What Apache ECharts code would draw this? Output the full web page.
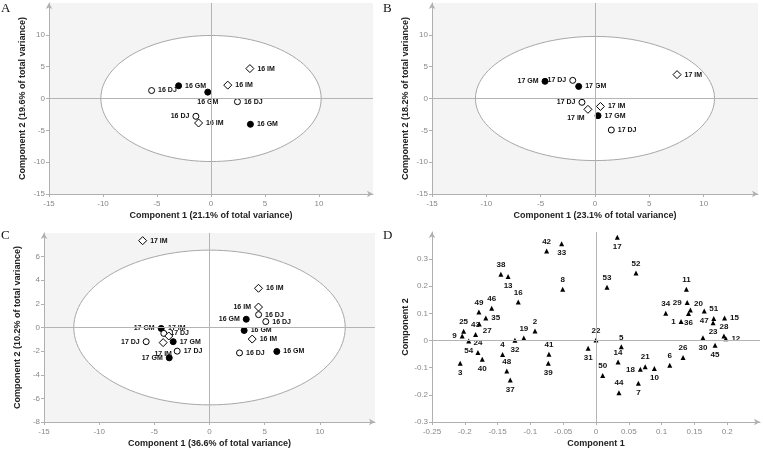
<!DOCTYPE html>
<html>
<head>
<meta charset="utf-8">
<script src="https://cdn.jsdelivr.net/npm/echarts@6/dist/echarts.min.js"></script>
<style>html,body{margin:0;padding:0;background:#fff}#pic_chart{width:763px;height:449px}</style>
</head>
<body>
<div id="pic_chart"></div>
<script>
// axis ranges: [min, max, interval]
var aX = [-15, 15, 5], aY = [-15, 15, 5];
var bX = [-15, 15, 5], bY = [-15, 15, 5];
var cX = [-15, 15, 5], cY = [-8, 8, 2];
var dX = [-0.25, 0.25, 0.05], dY = [-0.3, 0.4, 0.1];

var axisNames = [
    ['Component 1 (21.1% of total variance)', 'Component 2 (19.6% of total variance)'],
    ['Component 1 (23.1% of total variance)', 'Component 2 (18.2% of total variance)'],
    ['Component 1 (36.6% of total variance)', 'Component 2 (10.2% of total variance)'],
    ['Component 1', 'Component 2']
];

// confidence ellipses (semi axes)
var ellA = [10.2, 9.9], ellB = [11.0, 9.75], ellC = [12.3, 6.55];

// panel A
var aGM = [[-3.0, 2.0, '16 GM'], [-0.3, 1.0, '16 GM'], [3.65, -4.05, '16 GM']];
var aDJ = [[-5.5, 1.25, '16 DJ'], [2.45, -0.5, '16 DJ'], [-1.4, -2.8, '16 DJ']];
var aIM = [[1.55, 2.1, '16 IM'], [3.6, 4.7, '16 IM'], [-1.15, -3.85, '16 IM']];
var aGMPos = ['right', 'bottom', 'right'];
var aDJPos = ['right', 'right', 'left'];
var aIMPos = ['right', 'right', 'right'];

// panel B
var bGM = [[-4.6, 2.7, '17 GM'], [-1.5, 1.9, '17 GM'], [0.28, -2.7, '17 GM']];
var bDJ = [[-2.05, 2.85, '17 DJ'], [-1.2, -0.6, '17 DJ'], [1.5, -4.95, '17 DJ']];
var bIM = [[7.55, 3.75, '17 IM'], [-0.65, -1.7, '17 IM'], [0.5, -1.25, '17 IM']];
var bGMPos = ['left', 'right', 'right'];
var bDJPos = ['left', 'left', 'right'];
var bIMPos = ['right', 'bottomLeft', 'right'];

// panel C
var cGM = [[3.33, 0.7, '16 GM'], [3.14, -0.25, '16 GM'], [6.1, -2.03, '16 GM'],
           [-4.38, -0.08, '17 GM'], [-3.29, -1.2, '17 GM'], [-3.65, -2.57, '17 GM']];
var cDJ = [[4.45, 1.09, '16 DJ'], [5.1, 0.5, '16 DJ'], [2.72, -2.15, '16 DJ'],
           [-4.14, -0.5, '17 DJ'], [-5.74, -1.2, '17 DJ'], [-2.93, -2.0, '17 DJ']];
var cIM = [[4.44, 3.32, '16 IM'], [4.44, 1.73, '16 IM'], [3.87, -0.98, '16 IM'],
           [-6.06, 7.35, '17 IM'], [-3.69, -0.72, '17 IM'], [-4.2, -1.28, '17 IM']];
var cGMPos = ['left', 'right', 'right', 'left', 'right', 'left'];
var cDJPos = ['right', 'right', 'right', 'right', 'left', 'right'];
var cIMPos = ['right', 'left', 'right', 'right', 'topRight', 'bottom'];

// panel D loadings
var dPts = [
    [0.1297, 0.070, '1'], [-0.093, 0.035, '2'], [-0.207, -0.084, '3'], [-0.1424, -0.051, '4'],
    [0.0386, -0.023, '5'], [0.1124, -0.091, '6'], [0.0646, -0.157, '7'], [-0.0508, 0.189, '8'],
    [-0.204, 0.017, '9'], [0.089, -0.103, '10'], [0.1378, 0.189, '11'], [0.198, 0.007, '12'],
    [-0.134, 0.236, '13'], [0.0336, -0.079, '14'], [0.196, 0.083, '15'], [-0.1185, 0.142, '16'],
    [0.0325, 0.381, '17'], [0.0676, -0.106, '18'], [-0.110, 0.0098, '19'], [0.1439, 0.113, '20'],
    [0.075, -0.096, '21'], [0.0, 0.002, '22'], [0.1785, 0.066, '23'], [-0.18, -0.044, '24'],
    [-0.2018, 0.034, '25'], [0.1327, -0.062, '26'], [-0.178, 0.061, '27'], [0.195, 0.017, '28'],
    [0.139, 0.140, '29'], [0.163, 0.010, '30'], [-0.012, -0.028, '31'], [-0.1236, 0.001, '32'],
    [-0.0524, 0.357, '33'], [0.1063, 0.101, '34'], [-0.168, 0.083, '35'], [0.141, 0.0996, '36'],
    [-0.1307, -0.145, '37'], [-0.145, 0.244, '38'], [-0.0727, -0.084, '39'], [-0.1734, -0.069, '40'],
    [-0.0717, -0.050, '41'], [-0.0753, 0.330, '42'], [-0.1836, 0.022, '43'], [0.035, -0.192, '44'],
    [0.1815, -0.017, '45'], [-0.159, 0.119, '46'], [0.165, 0.109, '47'], [-0.136, -0.112, '48'],
    [-0.1785, 0.105, '49'], [0.0102, -0.129, '50'], [0.1795, 0.081, '51'], [0.061, 0.249, '52'],
    [0.0168, 0.196, '53'], [-0.194, -0.002, '54']
];
var dPos = [
    'left', 'top', 'bottom', 'top', 'top', 'top', 'bottom', 'top',
    'left', 'bottom', 'top', 'right', 'bottom', 'top', 'right', 'top',
    'bottom', 'left', 'top', 'topRight', 'top', 'top', 'bottom', 'top',
    'top', 'top', 'bottomRight', 'top', 'left', 'bottom', 'bottom', 'bottom',
    'bottom', 'top', 'right', 'bottom', 'bottom', 'top', 'bottom', 'bottom',
    'top', 'top', 'top', 'top', 'bottom', 'top', 'bottom', 'top',
    'top', 'top', 'top', 'top', 'top', 'bottom'
];

var font = 'Liberation Sans, Arial, sans-serif';

function lab(pos) {
    var m = {topRight: ['top', [8, 3]], bottomRight: ['bottom', [8, -3]], bottomLeft: ['bottom', [-12, -2]]};
    if (m[pos]) return {position: m[pos][0], offset: m[pos][1]};
    return {position: pos};
}

function pts(arr, pos, i, symbol, fill, size, fs, bw) {
    return {
        type: 'scatter', xAxisIndex: i, yAxisIndex: i, z: 3,
        symbol: symbol, symbolSize: size,
        itemStyle: {color: fill, borderColor: '#000', borderWidth: bw, opacity: 1},
        label: {show: true, formatter: '{b}', fontSize: fs, fontWeight: 'bold', color: '#111',
                fontFamily: font, distance: 3},
        data: arr.map(function (p, k) {
            return {value: [p[0], p[1]], name: p[2], label: lab(pos[k])};
        })
    };
}

function zeroLines(i) {
    return {
        type: 'scatter', xAxisIndex: i, yAxisIndex: i, z: 2, data: [],
        markLine: {silent: true, symbol: 'none', animation: false, label: {show: false},
                   lineStyle: {color: '#b4b4b4', width: 1, type: 'solid'},
                   data: [{xAxis: 0}, {yAxis: 0}]}
    };
}

function ellipse(e, i) {
    return {
        type: 'custom', xAxisIndex: i, yAxisIndex: i, z: 1, silent: true,
        data: [e],
        renderItem: function (params, api) {
            var rx = api.value(0), ry = api.value(1), p = [];
            for (var k = 0; k <= 120; k++) {
                var t = k / 120 * 2 * Math.PI;
                p.push(api.coord([rx * Math.cos(t), ry * Math.sin(t)]));
            }
            return {type: 'polygon', shape: {points: p},
                    style: {fill: '#fff', stroke: '#a8a8a8', lineWidth: 1}};
        }
    };
}

function axis(i, r, name, gap, isY) {
    return {
        type: 'value', gridIndex: i, min: r[0], max: r[1], interval: r[2],
        name: name, nameLocation: 'middle', nameGap: gap,
        nameTextStyle: {fontWeight: 'bold', fontSize: 9, color: '#222', fontFamily: font},
        axisLine: {onZero: false, lineStyle: {color: '#b0b0b0'}, symbol: ['none', 'arrow'], symbolSize: [5, 6]},
        axisTick: {lineStyle: {color: '#b0b0b0'}, length: 3},
        axisLabel: {fontSize: 8, color: '#888', showMaxLabel: false, margin: isY ? 4 : 6, fontFamily: font},
        splitLine: {show: false}
    };
}

var myChart = echarts.init(document.getElementById('pic_chart'));
option = {
    animation: false,
    graphic: [
        {type: 'text', left: 1, top: 2, style: {text: 'A', font: '13px Liberation Serif', fill: '#111'}},
        {type: 'text', left: 383, top: 2, style: {text: 'B', font: '13px Liberation Serif', fill: '#111'}},
        {type: 'text', left: 1, top: 229, style: {text: 'C', font: '13px Liberation Serif', fill: '#111'}},
        {type: 'text', left: 383, top: 229, style: {text: 'D', font: '13px Liberation Serif', fill: '#111'}}
    ],
    grid: [
        {left: 49, top: 3, width: 324, height: 191, show: true, backgroundColor: '#f4f4f4', borderWidth: 0},
        {left: 432, top: 3, width: 326, height: 191, show: true, backgroundColor: '#f4f4f4', borderWidth: 0},
        {left: 44, top: 233, width: 331, height: 191, show: true, backgroundColor: '#f4f4f4', borderWidth: 0},
        {left: 432, top: 232, width: 328, height: 192, show: false}
    ],
    xAxis: [
        axis(0, aX, axisNames[0][0], 17), axis(1, bX, axisNames[1][0], 17),
        axis(2, cX, axisNames[2][0], 17), axis(3, dX, axisNames[3][0], 17)
    ],
    yAxis: [
        axis(0, aY, axisNames[0][1], 22, true), axis(1, bY, axisNames[1][1], 22, true),
        axis(2, cY, axisNames[2][1], 22, true), axis(3, dY, axisNames[3][1], 22, true)
    ],
    series: [
        ellipse(ellA, 0), ellipse(ellB, 1), ellipse(ellC, 2),
        zeroLines(0), zeroLines(1), zeroLines(2), zeroLines(3),
        pts(aGM, aGMPos, 0, 'circle', '#000', 6, 7, 1),
        pts(aDJ, aDJPos, 0, 'circle', '#fff', 6, 7, 1),
        pts(aIM, aIMPos, 0, 'diamond', '#fff', 8, 7, 1),
        pts(bGM, bGMPos, 1, 'circle', '#000', 6, 7, 1),
        pts(bDJ, bDJPos, 1, 'circle', '#fff', 6, 7, 1),
        pts(bIM, bIMPos, 1, 'diamond', '#fff', 8, 7, 1),
        pts(cGM, cGMPos, 2, 'circle', '#000', 6, 7, 1),
        pts(cDJ, cDJPos, 2, 'circle', '#fff', 6, 7, 1),
        pts(cIM, cIMPos, 2, 'diamond', '#fff', 8, 7, 1),
        pts(dPts, dPos, 3, 'triangle', '#000', 5, 8, 0)
    ]
};
myChart.setOption(option);
</script>
</body>
</html>
